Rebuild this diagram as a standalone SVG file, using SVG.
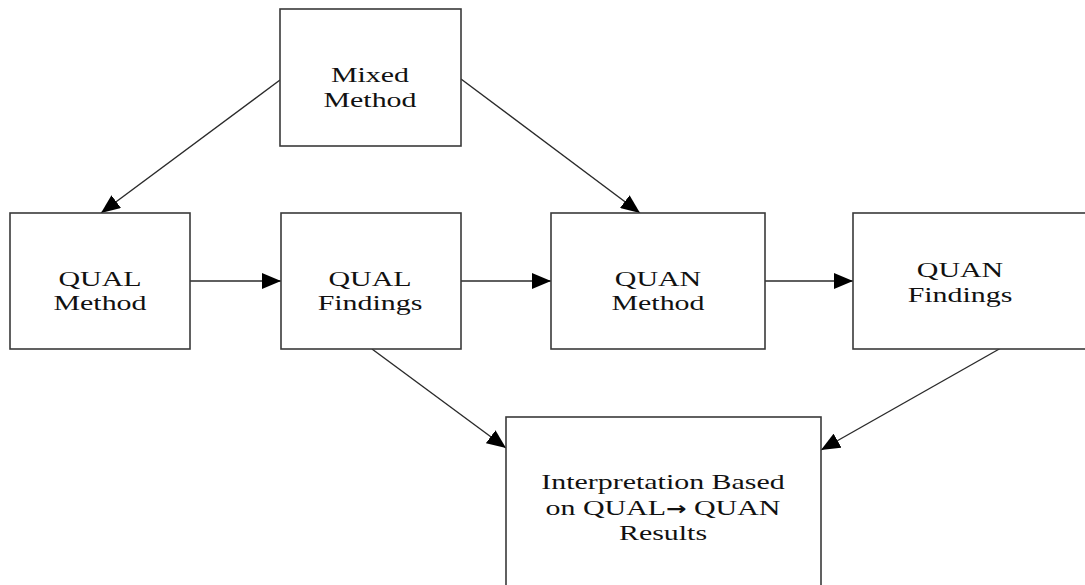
<svg xmlns="http://www.w3.org/2000/svg" width="1085" height="585" viewBox="0 0 1085 585">
<style>
.box{fill:#fff;stroke:#3a3a3a;stroke-width:1.6}
.lbl{font-family:"Liberation Serif","Times New Roman",serif;font-size:22px;fill:#111;text-anchor:middle}
.arr{font-family:"DejaVu Sans",sans-serif;font-size:18px;font-weight:bold}
.conn{stroke:#2a2a2a;stroke-width:1.4;fill:none;marker-end:url(#ah)}
</style>
<defs>
<marker id="ah" markerUnits="userSpaceOnUse" markerWidth="20" markerHeight="16" refX="19" refY="8" orient="auto">
<path d="M0,0 L19,8 L0,16 Z" fill="#000"/>
</marker>
</defs>
<rect width="1085" height="585" fill="#fff"/>
<g id="connectors">
<line class="conn" x1="280" y1="80" x2="101" y2="213"/>
<line class="conn" x1="461" y1="79" x2="640" y2="213"/>
<line class="conn" x1="190" y1="281" x2="281" y2="281"/>
<line class="conn" x1="461" y1="281" x2="551" y2="281"/>
<line class="conn" x1="765" y1="281" x2="853" y2="281"/>
<line class="conn" x1="372" y1="349" x2="506" y2="448"/>
<line class="conn" x1="1001" y1="348" x2="821" y2="450"/>
</g>
<g id="mixed">
<rect class="box" x="280" y="9" width="181" height="137"/>
<text class="lbl" transform="translate(370,82) scale(1.36,1)">Mixed</text>
<text class="lbl" transform="translate(370,107) scale(1.36,1)">Method</text>
</g>
<g id="qualMethod">
<rect class="box" x="10" y="213" width="180" height="136"/>
<text class="lbl" transform="translate(100,286) scale(1.36,1)">QUAL</text>
<text class="lbl" transform="translate(100,310) scale(1.36,1)">Method</text>
</g>
<g id="qualFindings">
<rect class="box" x="281" y="213" width="180" height="136"/>
<text class="lbl" transform="translate(370,286) scale(1.36,1)">QUAL</text>
<text class="lbl" transform="translate(370,310) scale(1.36,1)">Findings</text>
</g>
<g id="quanMethod">
<rect class="box" x="551" y="213" width="214" height="136"/>
<text class="lbl" transform="translate(658,286) scale(1.36,1)">QUAN</text>
<text class="lbl" transform="translate(658,310) scale(1.36,1)">Method</text>
</g>
<g id="quanFindings">
<rect class="box" x="853" y="213" width="240" height="136"/>
<text class="lbl" transform="translate(960,277) scale(1.36,1)">QUAN</text>
<text class="lbl" transform="translate(960,302) scale(1.36,1)">Findings</text>
</g>
<g id="interpretation">
<rect class="box" x="506" y="417" width="315" height="180"/>
<text class="lbl" transform="translate(663,489) scale(1.36,1)">Interpretation Based</text>
<text class="lbl" transform="translate(663,515) scale(1.36,1)">on QUAL<tspan class="arr">→</tspan> QUAN</text>
<text class="lbl" transform="translate(663,540) scale(1.36,1)">Results</text>
</g>
</svg>
